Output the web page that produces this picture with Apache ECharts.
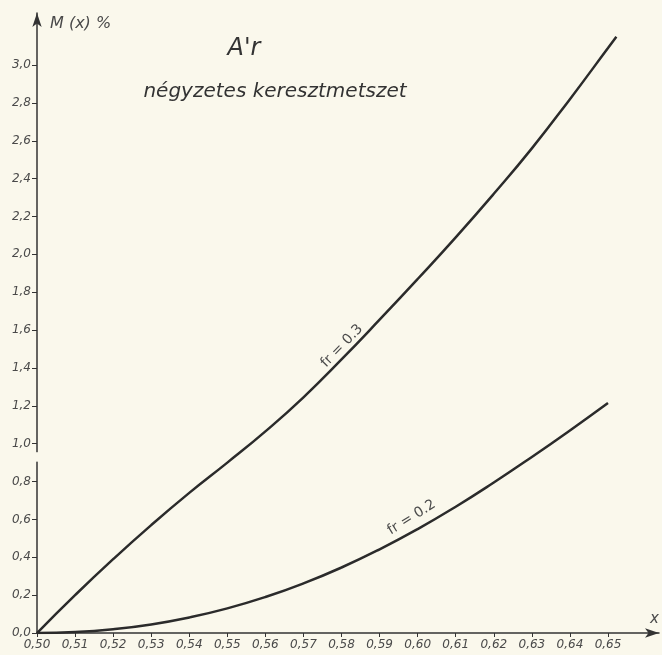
<!DOCTYPE html>
<html>
<head>
<meta charset="utf-8">
<script src="https://cdn.jsdelivr.net/npm/echarts@6/dist/echarts.min.js"></script>
<style>
  html, body { margin: 0; padding: 0; background: #faf8ec; }
  #main { width: 662px; height: 655px; }
</style>
</head>
<body>
<div id="main"></div>
<script>
// x = 0.50 ... 0.65
var xTicks = [0.50, 0.51, 0.52, 0.53, 0.54, 0.55, 0.56, 0.57, 0.58, 0.59, 0.60, 0.61, 0.62, 0.63, 0.64, 0.65];
var yTicks = [0.0, 0.2, 0.4, 0.6, 0.8, 1.0, 1.2, 1.4, 1.6, 1.8, 2.0, 2.2, 2.4, 2.6, 2.8, 3.0];

// fr = 0.3 (goes slightly past 0.65)
var xFr03 = [0.50, 0.51, 0.52, 0.53, 0.54, 0.55, 0.56, 0.57, 0.58, 0.59, 0.60, 0.61, 0.62, 0.63, 0.64, 0.65, 0.6522];
var mFr03 = [0.00, 0.20, 0.39, 0.57, 0.74, 0.90, 1.065, 1.245, 1.445, 1.655, 1.87, 2.09, 2.32, 2.56, 2.82, 3.09, 3.15];

// fr = 0.2
var xFr02 = [0.50, 0.51, 0.52, 0.53, 0.54, 0.55, 0.56, 0.57, 0.58, 0.59, 0.60, 0.61, 0.62, 0.63, 0.64, 0.65];
var mFr02 = [0.000, 0.005, 0.020, 0.045, 0.082, 0.130, 0.190, 0.262, 0.346, 0.442, 0.549, 0.667, 0.795, 0.930, 1.070, 1.215];

var ink = '#2b2b2b';
var txt = '#4a4a4a';
var font = 'DejaVu Sans';
var bg = '#faf8ec';

function pairs(xs, ys) {
  return xs.map(function (x, i) { return [x, ys[i]]; });
}

var chart = echarts.init(document.getElementById('main'));

chart.setOption({
  backgroundColor: bg,
  animation: false,
  title: [
    {
      text: "A'r",
      left: 239, top: 32, textAlign: 'center',
      textStyle: { fontFamily: font, fontStyle: 'italic', fontWeight: 'normal', fontSize: 24, color: '#333' }
    },
    {
      text: 'négyzetes keresztmetszet',
      left: 270, top: 77, textAlign: 'center',
      textStyle: { fontFamily: font, fontStyle: 'italic', fontWeight: 'normal', fontSize: 20, color: '#333' }
    }
  ],
  grid: { left: 37, right: 2, top: 13, bottom: 22, containLabel: false },
  xAxis: {
    type: 'value',
    min: 0.5,
    max: 0.6634,
    name: 'x',
    nameLocation: 'end',
    nameGap: 0,
    nameTextStyle: { fontFamily: font, fontStyle: 'italic', fontSize: 15, color: txt, align: 'right', verticalAlign: 'bottom', padding: [0, 0, 6, 0] },
    axisLine: { symbol: ['none', 'arrow'], symbolSize: [7, 14], lineStyle: { color: '#333', width: 1.5 } },
    axisTick: { customValues: xTicks, length: 4, lineStyle: { color: '#333' } },
    axisLabel: {
      customValues: xTicks, margin: 6,
      fontFamily: font, fontStyle: 'italic', fontSize: 12, color: txt,
      formatter: function (v) { return v.toFixed(2).replace('.', ','); }
    },
    splitLine: { show: false }
  },
  yAxis: {
    type: 'value',
    min: 0,
    max: 3.275,
    name: 'M (x) %',
    nameLocation: 'end',
    nameGap: -11,
    nameTextStyle: { fontFamily: font, fontStyle: 'italic', fontSize: 16, color: txt, align: 'left', verticalAlign: 'middle', padding: [0, 0, 0, 13] },
    axisLine: { show: true, symbol: ['none', 'arrow'], symbolSize: [7, 14], lineStyle: { color: '#333', width: 1.5 } },
    axisTick: { show: true, customValues: yTicks, length: 5, lineStyle: { color: '#333' } },
    axisLabel: {
      customValues: yTicks, margin: 6,
      fontFamily: font, fontStyle: 'italic', fontSize: 12, color: txt,
      formatter: function (v) { return v.toFixed(1).replace('.', ','); }
    },
    splitLine: { show: false }
  },
  series: [
    {
      name: 'fr = 0.3',
      type: 'line',
      smooth: true,
      symbol: 'none',
      data: pairs(xFr03, mFr03),
      lineStyle: { color: ink, width: 2.5 },
      markPoint: {
        symbolSize: 0,
        data: [{ coord: [xFr03[8], mFr03[8]] }],
        label: {
          show: true, formatter: 'fr = 0.3', position: 'inside', offset: [10, -9], rotate: 46,
          fontFamily: font, fontSize: 14, color: txt
        }
      }
    },
    {
      name: 'fr = 0.2',
      type: 'line',
      smooth: true,
      symbol: 'none',
      data: pairs(xFr02, mFr02),
      lineStyle: { color: ink, width: 2.5 },
      markPoint: {
        symbolSize: 0,
        data: [{ coord: [xFr02[10], mFr02[10]] }],
        label: {
          show: true, formatter: 'fr = 0.2', position: 'inside', offset: [1, -13], rotate: 32,
          fontFamily: font, fontSize: 14, color: txt
        }
      }
    }
  ]
});

// small break in the y axis line between 0,8 and 1,0, as on the drawing
var gapTop = chart.convertToPixel({ yAxisIndex: 0 }, 0.955);
var gapBottom = chart.convertToPixel({ yAxisIndex: 0 }, 0.905);
var axisX = chart.convertToPixel({ xAxisIndex: 0 }, 0.5);
chart.setOption({
  graphic: [{
    type: 'rect',
    shape: { x: axisX - 2, y: gapTop, width: 4, height: gapBottom - gapTop },
    style: { fill: bg },
    z: 100
  }]
});
</script>
</body>
</html>
